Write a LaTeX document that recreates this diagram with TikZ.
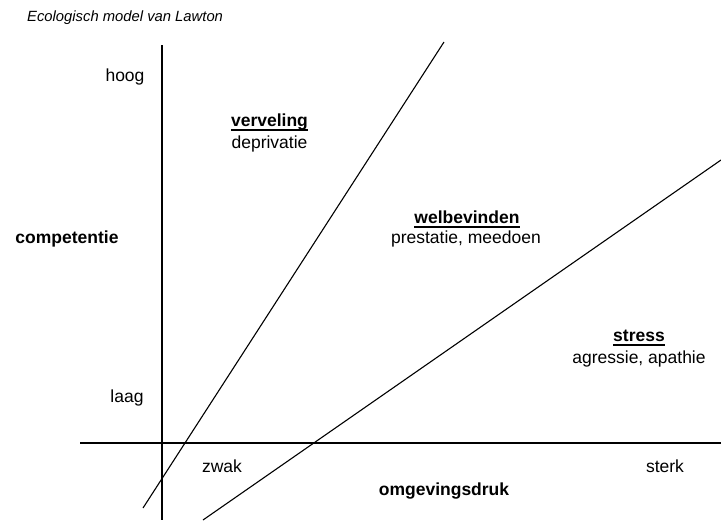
\documentclass[tikz,border=0pt]{standalone}
\usepackage{fontspec}
\setmainfont{Liberation Sans}
\begin{document}
\begin{tikzpicture}[x=1pt,y=-1pt,
  lbl/.style={inner sep=0pt,anchor=base,font=\fontsize{17.5}{20}\selectfont},
  blbl/.style={lbl,font=\fontsize{17.5}{20}\selectfont\bfseries},
  ttl/.style={inner sep=0pt,anchor=base west,font=\fontsize{14.8}{17}\selectfont\itshape},
  axis/.style={line width=1.3pt},
  ln/.style={line width=1.1pt},
  ul/.style={line width=1.1pt}]
\useasboundingbox (0,0) rectangle (721,520);
% title
\node[ttl] (title) at (27,21) {Ecologisch model van Lawton};
% axes
\coordinate (vtop) at (162,45);
\coordinate (vbot) at (162,520);
\coordinate (hl) at (80,443);
\coordinate (hr) at (721,443);
\draw[axis] (vtop) -- (vbot);
\draw[axis] (hl) -- (hr);
% diagonal lines
\coordinate (a1) at (143,508);
\coordinate (a2) at (444,42);
\coordinate (b1) at (203,520);
\coordinate (b2) at (721,160);
\draw[ln] (a1) -- (a2);
\draw[ln] (b1) -- (b2);
% axis labels
\node[lbl] (hoog) at (125,81) {hoog};
\node[lbl] (laag) at (127,402) {laag};
\node[blbl] (comp) at (67,243) {competentie};
\node[lbl] (zwak) at (222,472) {zwak};
\node[lbl] (sterk) at (665,472) {sterk};
\node[blbl] (omg) at (444,495) {omgevingsdruk};
% zones
\node[blbl] (verv) at (269.5,126) {verveling};
\node[lbl] (depr) at (269.5,148) {deprivatie};
\node[blbl] (welb) at (467,223) {welbevinden};
\node[lbl] (prest) at (466,243) {prestatie, meedoen};
\node[blbl] (stress) at (639,341) {stress};
\node[lbl] (agr) at (639,363) {agressie, apathie};
% underlines
\draw[ul] ([yshift=-4pt]verv.base west) -- ([yshift=-4pt]verv.base east);
\draw[ul] ([yshift=-4pt]welb.base west) -- ([yshift=-4pt]welb.base east);
\draw[ul] ([yshift=-4pt]stress.base west) -- ([yshift=-4pt]stress.base east);
\end{tikzpicture}
\end{document}
